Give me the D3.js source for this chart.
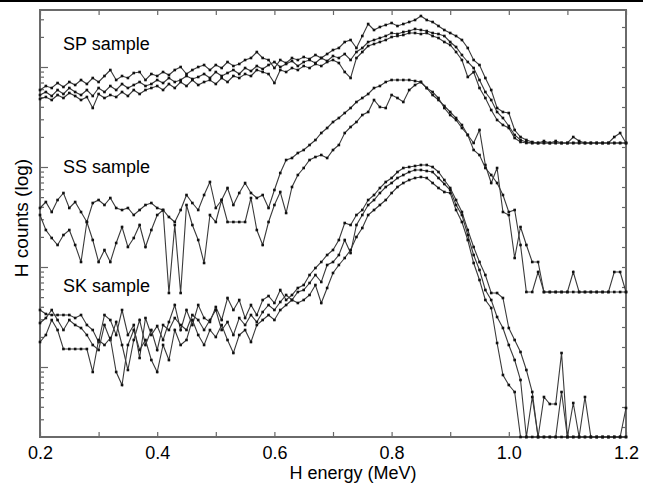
<!DOCTYPE html>
<html lang="en">
<head>
<meta charset="UTF-8">
<title>H energy spectra</title>
<script src="https://d3js.org/d3.v7.min.js"></script>
<style>
  body { margin: 0; background: #fff; }
  svg { font-family: "Liberation Sans", Arial, sans-serif; }
  .trace { fill: none; stroke: #3a3a3a; stroke-width: 1.1px; }
  .dot { fill: #111; }
  .axis line { stroke: #666; stroke-width: 1.2px; }
  .axis text { font-size: 18px; fill: #000; }
</style>
</head>
<body>
<svg width="646" height="486"></svg>
<script>
// energy channels (MeV)
const energy = [
  0.20,0.21,0.22,0.23,0.24,0.25,0.26,0.27,0.28,0.29,
  0.30,0.31,0.32,0.33,0.34,0.35,0.36,0.37,0.38,0.39,
  0.40,0.41,0.42,0.43,0.44,0.45,0.46,0.47,0.48,0.49,
  0.50,0.51,0.52,0.53,0.54,0.55,0.56,0.57,0.58,0.59,
  0.60,0.61,0.62,0.63,0.64,0.65,0.66,0.67,0.68,0.69,
  0.70,0.71,0.72,0.73,0.74,0.75,0.76,0.77,0.78,0.79,
  0.80,0.81,0.82,0.83,0.84,0.85,0.86,0.87,0.88,0.89,
  0.90,0.91,0.92,0.93,0.94,0.95,0.96,0.97,0.98,0.99,
  1.00,1.01,1.02,1.03,1.04,1.05,1.06,1.07,1.08,1.09,
  1.10,1.11,1.12,1.13,1.14,1.15,1.16,1.17,1.18,1.19,1.20];

// H counts, stored as log10(counts) (samples offset on the log axis)
const spA = [
  2.77,2.81,2.79,2.84,2.80,2.85,2.82,2.87,2.83,2.89,
  2.85,2.91,2.97,2.87,2.91,2.89,2.94,2.95,2.87,2.93,
  2.91,2.95,2.92,2.97,3.00,2.93,2.97,3.00,3.02,2.97,
  3.02,2.99,3.05,3.01,3.03,3.07,3.09,3.15,3.09,3.07,
  2.99,3.07,3.04,3.09,3.07,3.10,3.08,3.12,3.09,3.13,
  3.17,3.19,3.25,3.27,3.19,3.31,3.43,3.37,3.40,3.42,
  3.44,3.41,3.43,3.45,3.47,3.51,3.47,3.45,3.41,3.37,
  3.34,3.31,3.27,3.19,3.07,3.02,2.89,2.77,2.59,2.55,
  2.54,2.37,2.30,2.27,2.25,2.24,2.26,2.24,2.24,2.24,
  2.24,2.30,2.26,2.24,2.24,2.24,2.24,2.24,2.30,2.34,2.24];
const spB = [
  2.72,2.75,2.71,2.77,2.73,2.79,2.75,2.72,2.77,2.71,
  2.79,2.75,2.81,2.77,2.83,2.79,2.82,2.85,2.81,2.83,
  2.87,2.84,2.89,2.85,2.87,2.91,2.88,2.90,2.93,2.89,
  2.95,2.91,2.94,2.97,2.93,2.99,2.96,3.01,2.98,3.02,
  3.05,3.00,3.03,3.06,3.01,3.05,3.07,3.04,3.09,3.06,
  3.11,3.09,3.13,3.07,3.15,3.19,3.25,3.27,3.29,3.31,
  3.34,3.33,3.35,3.36,3.38,3.37,3.36,3.34,3.33,3.31,
  3.25,3.20,3.12,3.05,2.99,2.87,2.75,2.67,2.55,2.49,
  2.41,2.32,2.27,2.25,2.24,2.24,2.24,2.24,2.26,2.24,
  2.24,2.24,2.24,2.24,2.24,2.24,2.24,2.24,2.24,2.24,2.24];
const spC = [
  2.68,2.70,2.67,2.72,2.69,2.74,2.71,2.67,2.70,2.59,
  2.73,2.69,2.72,2.70,2.75,2.71,2.77,2.73,2.77,2.79,
  2.81,2.77,2.83,2.79,2.85,2.81,2.87,2.82,2.85,2.87,
  2.83,2.89,2.85,2.91,2.89,2.93,2.91,2.97,2.95,2.93,
  2.84,2.97,2.95,2.99,2.97,3.01,2.99,3.03,3.01,3.05,
  3.07,3.04,2.95,2.89,3.09,3.15,3.21,3.23,3.25,3.27,
  3.30,3.31,3.32,3.34,3.34,3.33,3.34,3.31,3.29,3.25,
  3.22,3.15,3.07,2.90,2.95,2.79,2.69,2.57,2.47,2.42,
  2.39,2.29,2.25,2.24,2.24,2.24,2.24,2.24,2.24,2.24,
  2.24,2.24,2.24,2.24,2.24,2.24,2.24,2.24,2.24,2.24,2.24];

const ssA = [
  1.59,1.65,1.55,1.67,1.74,1.59,1.65,1.55,1.45,1.64,
  1.67,1.62,1.69,1.59,1.57,1.59,1.52,1.57,1.62,1.64,
  1.59,1.57,1.50,1.45,1.57,1.72,1.64,1.57,1.72,1.85,
  1.59,1.67,1.79,1.62,1.74,1.84,1.74,1.69,1.72,1.59,
  1.77,1.94,2.07,2.09,2.14,2.17,2.22,2.27,2.34,2.39,
  2.45,2.49,2.54,2.59,2.65,2.69,2.73,2.79,2.81,2.85,
  2.87,2.87,2.87,2.87,2.86,2.85,2.79,2.72,2.67,2.61,
  2.55,2.49,2.42,2.32,2.24,2.37,2.02,1.84,1.99,1.55,
  1.52,1.09,1.40,1.22,1.05,1.05,0.75,0.75,0.75,0.75,
  0.75,0.95,0.75,0.75,0.75,0.75,0.75,0.75,0.95,0.95,0.75];
const ssB = [
  1.52,1.37,1.29,1.22,1.32,1.37,1.22,1.05,1.45,1.27,
  1.05,1.17,1.05,1.24,1.40,1.20,1.29,1.42,1.20,1.37,
  1.52,1.57,0.74,1.42,0.74,1.62,1.42,1.27,1.04,1.52,
  1.45,1.67,1.45,1.45,1.45,1.45,1.69,1.37,1.22,1.45,
  1.62,1.75,1.54,1.80,1.92,1.99,2.07,2.10,2.12,2.09,
  2.17,2.22,2.34,2.40,2.45,2.52,2.55,2.67,2.60,2.59,
  2.72,2.69,2.65,2.77,2.82,2.85,2.79,2.75,2.69,2.59,
  2.52,2.47,2.39,2.32,2.17,2.12,1.99,1.92,1.84,1.72,
  1.55,1.57,1.22,0.75,0.75,0.95,0.75,0.75,0.75,0.75,
  0.75,0.75,0.75,0.75,0.75,0.75,0.75,0.75,0.75,0.75,0.75];

const skA = [
  0.57,0.53,0.52,0.52,0.52,0.52,0.49,0.52,0.42,0.37,
  0.25,0.52,0.47,0.32,0.57,0.32,0.42,0.09,0.49,0.32,
  0.41,0.27,0.45,0.62,0.37,0.57,0.42,0.62,0.49,0.45,
  0.60,0.47,0.69,0.57,0.67,0.49,0.62,0.52,0.67,0.71,
  0.64,0.77,0.67,0.72,0.79,0.82,0.92,0.99,1.05,1.12,
  1.17,1.27,1.44,1.42,1.52,1.57,1.67,1.72,1.79,1.85,
  1.89,1.95,1.99,2.00,2.01,2.02,2.02,2.00,1.95,1.87,
  1.79,1.67,1.55,1.37,1.20,1.05,0.92,0.74,0.74,0.69,
  0.39,0.27,0.15,-0.03,-0.25,-0.70,-0.30,-0.37,-0.37,0.14,
  -0.70,-0.36,-0.70,-0.30,-0.70,-0.70,-0.70,-0.70,-0.70,-0.70,-0.41];
const skB = [
  0.44,0.49,0.57,0.47,0.37,0.47,0.42,0.39,0.32,0.22,
  0.17,0.42,0.27,0.45,0.22,-0.03,0.27,0.47,0.22,0.37,
  0.17,0.42,0.37,0.49,0.42,0.37,0.52,0.47,0.37,0.47,
  0.57,0.37,0.45,0.32,0.49,0.42,0.52,0.45,0.55,0.62,
  0.57,0.65,0.72,0.67,0.75,0.77,0.84,0.92,0.85,1.02,
  1.05,1.12,1.27,1.14,1.42,1.52,1.62,1.67,1.74,1.80,
  1.84,1.89,1.92,1.95,1.97,1.97,1.96,1.95,1.89,1.83,
  1.77,1.62,1.52,1.32,1.12,0.97,0.77,0.67,0.50,0.39,
  0.22,0.07,-0.13,-0.70,-0.30,-0.70,-0.70,-0.70,-0.70,-0.25,
  -0.70,-0.70,-0.70,-0.70,-0.70,-0.70,-0.70,-0.70,-0.70,-0.70,-0.70];
const skC = [
  0.25,0.32,0.47,0.37,0.18,0.18,0.18,0.18,0.18,-0.05,
  0.27,0.22,0.29,-0.05,-0.18,0.22,0.37,0.17,0.27,0.07,
  -0.05,0.22,0.07,0.37,0.22,0.27,0.47,0.32,0.22,0.37,
  0.30,0.42,0.27,0.14,0.32,0.37,0.25,0.42,0.47,0.52,
  0.47,0.57,0.62,0.67,0.64,0.67,0.72,0.82,0.64,0.79,
  0.94,1.02,1.09,1.17,1.30,1.39,1.52,1.57,1.62,1.67,
  1.74,1.80,1.84,1.87,1.89,1.90,1.89,1.84,1.79,1.75,
  1.74,1.57,1.45,1.27,1.04,0.87,0.67,0.59,0.24,-0.08,
  -0.18,-0.25,-0.70,-0.70,-0.70,-0.70,-0.70,-0.70,-0.70,-0.70,
  -0.70,-0.70,-0.70,-0.70,-0.70,-0.70,-0.70,-0.70,-0.70,-0.70,-0.70];

const sampleLabels = ["SP sample", "SS sample", "SK sample"];
const labelLevels = [3.17, 1.94, 0.75];   // log10 level of each label baseline
const xTicks = [0.2,0.3,0.4,0.5,0.6,0.7,0.8,0.9,1.0,1.1,1.2];
const xLabelTicks = [0.2,0.4,0.6,0.8,1.0,1.2];

const series = [spA, spB, spC, ssA, ssB, skA, skB, skC];

const svg = d3.select("svg"),
  margin = { top: 10, right: 20, bottom: 49, left: 40 },
  width = +svg.attr("width") - margin.left - margin.right,
  height = +svg.attr("height") - margin.top - margin.bottom;

// rule across the top of the figure
svg.append("line")
  .attr("x1", 0).attr("x2", 643).attr("y1", 1).attr("y2", 1)
  .attr("stroke", "#000").attr("stroke-width", 2);

const g = svg.append("g").attr("transform", `translate(${margin.left},${margin.top})`);

const x = d3.scaleLinear().domain([0.2, 1.2]).range([0, width]);
const yMin = -0.7, yMax = 3.57;
const y = d3.scaleLinear().domain([yMin, yMax]).range([height, 0]);
const yLog = d3.scaleLog().domain([Math.pow(10, yMin), Math.pow(10, yMax)]).range([height, 0]);

// log ticks on the left
const minorVals = [], majorVals = [];
for (let k = -1; k <= 3; k++) {
  for (let m = 1; m <= 9; m++) {
    const v = m * Math.pow(10, k);
    if (v < yLog.domain()[0] || v > yLog.domain()[1]) continue;
    (m === 1 ? majorVals : minorVals).push(v);
  }
}
g.append("g").attr("class", "axis")
  .call(d3.axisLeft(yLog).tickValues(minorVals).tickSize(-4).tickFormat(""))
  .call(a => a.select(".domain").remove());
g.append("g").attr("class", "axis")
  .call(d3.axisLeft(yLog).tickValues(majorVals).tickSize(-8).tickFormat(""))
  .call(a => a.select(".domain").remove());

// right ticks
const rightVals = d3.range(-0.6, 3.5, 0.2);
g.append("g").attr("class", "axis")
  .attr("transform", `translate(${width},0)`)
  .call(d3.axisRight(y).tickValues(rightVals).tickSize(-4).tickFormat(""))
  .call(a => a.select(".domain").remove());

// X axes
g.append("g").attr("class", "axis")
  .attr("transform", `translate(0,${height})`)
  .call(d3.axisBottom(x).tickValues(xTicks).tickSize(-5).tickPadding(9)
    .tickFormat(d => xLabelTicks.some(v => Math.abs(v - d) < 1e-9) ? d3.format(".1f")(d) : ""))
  .call(a => a.select(".domain").remove());
g.append("g").attr("class", "axis")
  .call(d3.axisTop(x).tickValues(xTicks).tickSize(-5).tickFormat(""))
  .call(a => a.select(".domain").remove());

// frame
g.append("rect")
  .attr("width", width).attr("height", height)
  .attr("fill", "none").attr("stroke", "#6a6a6a").attr("stroke-width", 2);

const line = d3.line()
  .x((d, i) => x(energy[i]))
  .y(d => y(d));

series.forEach(s => {
  g.append("path").datum(s).attr("class", "trace").attr("d", line);
  g.selectAll(null).data(s).enter().append("rect")
    .attr("class", "dot")
    .attr("x", (d, i) => x(energy[i]) - 1.3)
    .attr("y", d => y(d) - 1.3)
    .attr("width", 2.6).attr("height", 2.6);
});

// sample labels
g.selectAll(".sample-label")
  .data(sampleLabels)
  .enter().append("text")
  .attr("class", "sample-label")
  .attr("x", 23)
  .attr("y", (d, i) => y(labelLevels[i]))
  .style("font-size", "18px")
  .text(d => d);

// axis titles
svg.append("text")
  .attr("x", 353).attr("y", 479)
  .attr("text-anchor", "middle")
  .style("font-size", "18px")
  .text("H energy (MeV)");

svg.append("text")
  .attr("transform", "translate(28,218) rotate(-90)")
  .attr("text-anchor", "middle")
  .style("font-size", "19px")
  .text("H counts (log)");
</script>
</body>
</html>
